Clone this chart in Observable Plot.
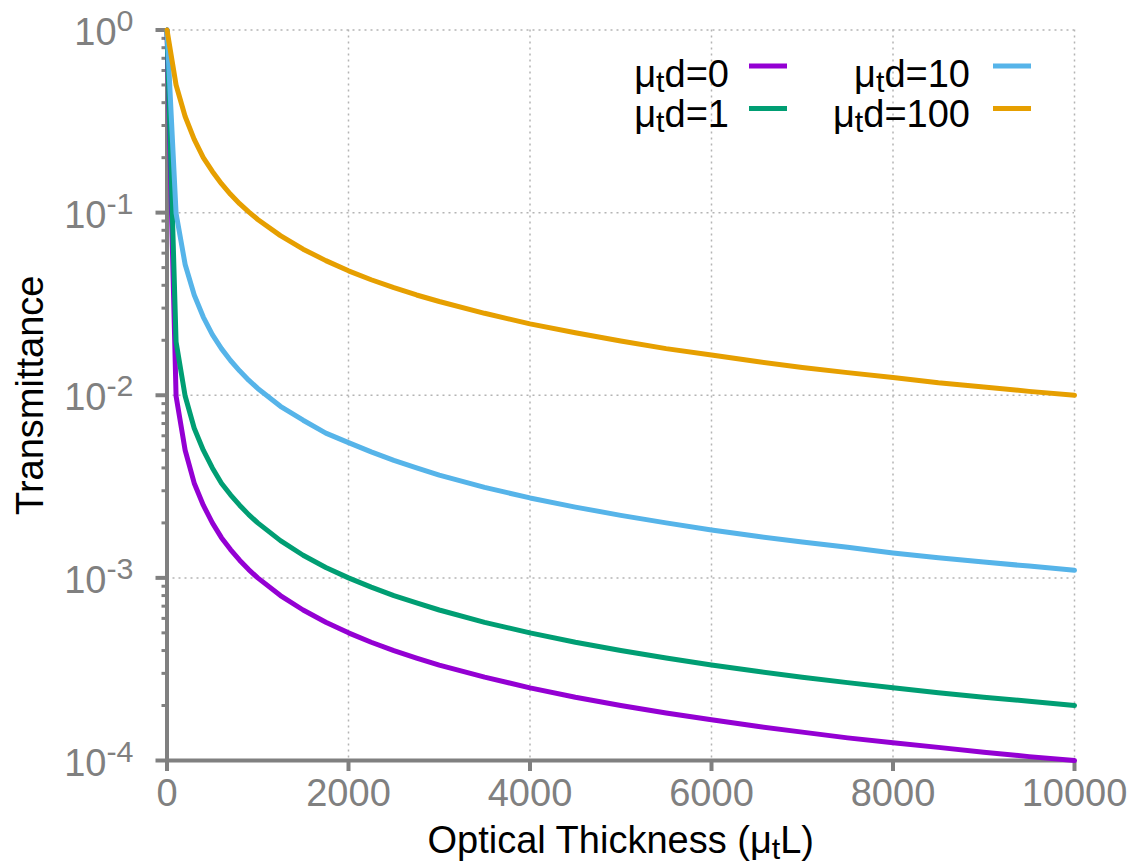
<!DOCTYPE html>
<html>
<head>
<meta charset="utf-8">
<script src="https://cdn.jsdelivr.net/npm/d3@7"></script>
<script src="https://cdn.jsdelivr.net/npm/@observablehq/plot@0.6"></script>
<style>
  body { margin: 0; background: #fff; }
  #chart { position: relative; width: 1133px; height: 865px; }
</style>
</head>
<body>
<div id="chart"></div>
<script>
// ---- data ----
const thickness = [0, 100, 200, 300, 400, 500, 600, 700, 800, 900, 1000, 1250, 1500, 1750, 2000, 2250, 2500, 2750, 3000, 3500, 4000, 4500, 5000, 5500, 6000, 6500, 7000, 7500, 8000, 8500, 9000, 9500, 10000];

const trans_d0 = [1, 0.0099, 0.005, 0.0033, 0.0025, 0.002, 0.00166, 0.00143, 0.00125, 0.00111, 0.001, 0.0008, 0.000667, 0.000571, 0.0005, 0.000444, 0.0004, 0.000364, 0.000333, 0.000286, 0.00025, 0.000222, 0.0002, 0.000182, 0.000167, 0.000154, 0.000143, 0.000133, 0.000125, 0.000118, 0.000111, 0.000105, 0.0001];

const trans_d1 = [1, 0.0196, 0.0099, 0.0066, 0.005, 0.004, 0.0033, 0.00285, 0.0025, 0.00222, 0.002, 0.0016, 0.00133, 0.00114, 0.001, 0.00089, 0.0008, 0.00073, 0.000667, 0.000571, 0.0005, 0.000444, 0.0004, 0.000364, 0.000333, 0.000308, 0.000286, 0.000267, 0.00025, 0.000235, 0.000222, 0.000211, 0.0002];

const trans_d10 = [1, 0.099, 0.052, 0.0354, 0.0268, 0.0215, 0.018, 0.0155, 0.0136, 0.0121, 0.0109, 0.0087, 0.0073, 0.0062, 0.0055, 0.0049, 0.0044, 0.004, 0.00365, 0.00313, 0.00274, 0.00244, 0.0022, 0.002, 0.00183, 0.00169, 0.00157, 0.00147, 0.00137, 0.00129, 0.00122, 0.00116, 0.0011];

const trans_d100 = [1, 0.5, 0.336, 0.252, 0.2, 0.168, 0.144, 0.126, 0.112, 0.101, 0.0917, 0.0748, 0.0631, 0.0546, 0.048, 0.0429, 0.0388, 0.0354, 0.0326, 0.0281, 0.0246, 0.022, 0.0198, 0.018, 0.0166, 0.0153, 0.0142, 0.0133, 0.0125, 0.0117, 0.0111, 0.0105, 0.01];

const seriesNames = ["μ_td=0", "μ_td=1", "μ_td=10", "μ_td=100"];
const seriesColors = ["#9400d3", "#009e73", "#56b4e9", "#e69f00"];

const xTicks = [0, 2000, 4000, 6000, 8000, 10000];
const xTickLabels = ["0", "2000", "4000", "6000", "8000", "10000"];
const yTicks = [1e-4, 1e-3, 1e-2, 1e-1, 1];
const yTickLabels = ["10^-4", "10^-3", "10^-2", "10^-1", "10^0"];
const yMinorMultipliers = [2, 3, 4, 5, 6, 7, 8, 9];

const xTitle = "Optical Thickness (μ_tL)";
const yTitle = "Transmittance";

// ---- build table ----
const seriesValues = [trans_d0, trans_d1, trans_d10, trans_d100];
const rows = seriesNames.flatMap((s, i) =>
  thickness.map((x, j) => ({ series: s, x, y: seriesValues[i][j] }))
);
const yMinor = yTicks.slice(0, -1).flatMap(d => yMinorMultipliers.map(m => d * m));

const font = "'Liberation Sans', Arial, Helvetica, sans-serif";
const gray = "#808080";
const gridStyle = { stroke: "#b4b4b4", strokeOpacity: 1, strokeWidth: 1.5, strokeDasharray: "2,4" };

const plot = Plot.plot({
  width: 1133,
  height: 865,
  marginLeft: 166.5,
  marginRight: 59,
  marginTop: 29.5,
  marginBottom: 105,
  style: { fontFamily: font, background: "#fff", overflow: "visible" },
  x: { domain: [0, 10000] },
  y: { type: "log", domain: [1e-4, 1] },
  color: { domain: seriesNames, range: seriesColors },
  marks: [
    Plot.gridX(xTicks.slice(1), gridStyle),
    Plot.gridY(yTicks.slice(1), gridStyle),
    Plot.axisY(yMinor, { tickSize: 5, strokeWidth: 3, stroke: gray, tickFormat: () => "", label: null }),
    Plot.axisY(yTicks, {
      tickSize: 11, tickPadding: 22.5, strokeWidth: 4, color: gray, fontSize: 38,
      tickFormat: d => yTickLabels[yTicks.indexOf(d)], label: null
    }),
    Plot.axisX(xTicks, {
      tickSize: 11, tickPadding: 8, strokeWidth: 4, color: gray, fontSize: 38,
      tickFormat: d => xTickLabels[xTicks.indexOf(d)], label: null
    }),
    Plot.ruleX([0], { stroke: gray, strokeWidth: 4 }),
    Plot.ruleY([1e-4], { stroke: gray, strokeWidth: 4 }),
    Plot.lineY(rows, { x: "x", y: "y", z: "series", stroke: "series", strokeWidth: 5 }),
    Plot.text([xTitle], { text: d => d, frameAnchor: "bottom", textAnchor: "middle", dy: 92, lineAnchor: "bottom", fontSize: 38, fill: "black" }),
    Plot.text([yTitle], { text: d => d, frameAnchor: "left", textAnchor: "middle", rotate: -90, dx: -124.5, lineAnchor: "bottom", fontSize: 38, fill: "black" })
  ]
});

document.getElementById("chart").appendChild(plot);

// ---- rich text: _x subscript, ^... superscript ----
function setRich(el, str, subDy, supDy) {
  const t = d3.select(el);
  t.text(null);
  const parts = [];
  let buf = "", i = 0;
  while (i < str.length) {
    const c = str[i];
    if (c === "_") { if (buf) parts.push({ s: buf }); buf = ""; parts.push({ s: str[i + 1], sub: true }); i += 2; }
    else if (c === "^") { if (buf) parts.push({ s: buf }); buf = ""; parts.push({ s: str.slice(i + 1), sup: true }); i = str.length; }
    else { buf += c; i++; }
  }
  if (buf) parts.push({ s: buf });
  let shift = 0;
  for (const p of parts) {
    const ts = t.append("tspan").text(p.s);
    const target = p.sub ? subDy : p.sup ? -supDy : 0;
    if (target !== shift) { ts.attr("dy", target - shift); shift = target; }
    if (p.sub || p.sup) ts.attr("font-size", "80%");
  }
}

const svg = d3.select(plot);
svg.selectAll("text").each(function () {
  const s = this.textContent;
  if (s.includes("^")) {
    this.setAttribute("y", "0.4em");
    setRich(this, s, 0, 14);
  } else if (s.includes("_")) {
    setRich(this, s, 6, 0);
  }
});

// ---- legend (inside plot, top right) ----
const legendItems = [
  { col: 0, row: 0 }, { col: 0, row: 1 }, { col: 1, row: 0 }, { col: 1, row: 1 }
];
const colTextEnd = [729, 970];
const colSwatch = [[749, 787], [993, 1031]];
const rowBaseline = [87, 127];
const rowSwatch = [66, 108.5];
const lg = svg.append("g").attr("font-family", font).attr("font-size", 38);
seriesNames.forEach((name, i) => {
  const { col, row } = legendItems[i];
  const txt = lg.append("text")
    .attr("x", colTextEnd[col]).attr("y", rowBaseline[row])
    .attr("text-anchor", "end").attr("fill", "black");
  setRich(txt.node(), name, 5, 0);
  lg.append("line")
    .attr("x1", colSwatch[col][0]).attr("x2", colSwatch[col][1])
    .attr("y1", rowSwatch[row]).attr("y2", rowSwatch[row])
    .attr("stroke", seriesColors[i]).attr("stroke-width", 5);
});
</script>
</body>
</html>
